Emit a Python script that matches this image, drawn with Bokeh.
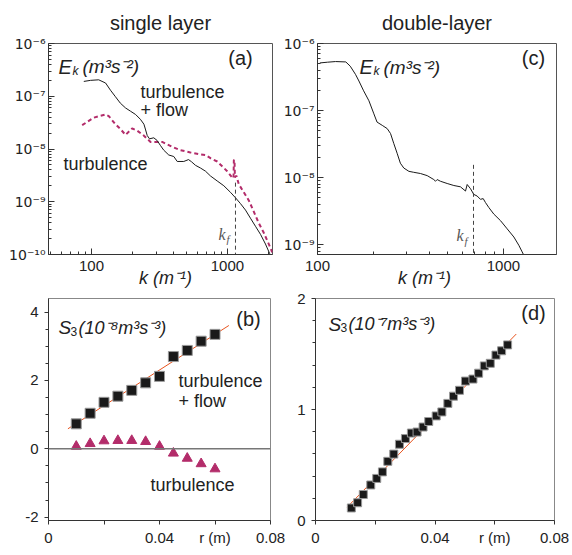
from bokeh.plotting import figure
from bokeh.models import Range1d, FixedTicker, Label, Span
from bokeh.layouts import row, column
from bokeh.embed import file_html
from bokeh.resources import INLINE

# ---------------- data ----------------
# (a) single layer, turbulence + flow (black)
K_A_FLOW = [87.8, 98.3, 113, 127, 138, 150, 163, 178, 194, 211, 229, 243, 249, 257, 267, 287, 304,
            321, 340, 370, 403, 427, 477, 517, 543, 582, 632, 689, 750, 840, 940, 1052, 1145, 1247,
            1357, 1476, 1606, 1749, 1902, 2047]
E_A_FLOW = [1.91e-7, 2.00e-7, 2.05e-7, 1.78e-7, 1.30e-7, 9.8e-8, 7.4e-8, 6.0e-8, 5.19e-8, 4.51e-8,
            3.65e-8, 2.95e-8, 2.39e-8, 1.80e-8, 1.56e-8, 1.63e-8, 1.45e-8, 1.17e-8, 9.5e-9, 7.7e-9,
            7.2e-9, 5.8e-9, 5.8e-9, 6.3e-9, 5.75e-9, 4.9e-9, 4.37e-9, 3.80e-9, 3.08e-9, 2.48e-9,
            2.01e-9, 1.51e-9, 1.19e-9, 9.2e-10, 6.95e-10, 4.87e-10, 3.43e-10, 2.41e-10, 1.58e-10,
            1.03e-10]
# (a) single layer, turbulence (magenta)
K_A_TURB = [85.4, 104, 127, 134, 150, 163, 178, 199, 217, 243, 272, 331, 392, 451, 534, 633, 689,
            750, 840, 914, 995, 1084, 1108, 1114, 1126, 1134, 1164, 1211, 1318, 1435, 1561, 1699,
            1849, 2013, 2133]
E_A_TURB = [2.83e-8, 3.93e-8, 4.51e-8, 4.20e-8, 2.95e-8, 2.40e-8, 1.85e-8, 2.46e-8, 2.22e-8,
            1.79e-8, 1.36e-8, 1.36e-8, 1.10e-8, 9.5e-9, 8.6e-9, 7.9e-9, 7.7e-9, 6.7e-9, 5.8e-9,
            4.7e-9, 3.8e-9, 2.86e-9, 2.8e-9, 6.2e-9, 6.2e-9, 2.9e-9, 3.1e-9, 2.15e-9, 1.51e-9,
            1.06e-9, 6.5e-10, 3.94e-10, 2.58e-10, 1.57e-10, 1.10e-10]
# (c) double layer
K_C = [103, 113, 125, 142, 150, 160, 167, 177, 189, 201, 209, 223, 237, 247, 257, 268, 279, 291,
       310, 329, 358, 389, 422, 431, 440, 458, 498, 541, 587, 625, 638, 665, 692, 722, 752, 778,
       800, 834, 887, 964, 1047, 1137, 1209, 1260, 1286]
E_C = [5.13e-7, 5.26e-7, 5.38e-7, 5.31e-7, 4.59e-7, 3.47e-7, 2.76e-7, 1.97e-7, 1.40e-7, 8.93e-8,
       6.73e-8, 6.01e-8, 5.38e-8, 4.54e-8, 3.24e-8, 2.31e-8, 1.64e-8, 1.39e-8, 1.24e-8, 1.20e-8,
       1.15e-8, 1.07e-8, 9.35e-9, 8.83e-9, 9.35e-9, 8.83e-9, 8.17e-9, 7.62e-9, 7.29e-9, 6.30e-9,
       7.89e-9, 6.82e-9, 5.62e-9, 5.31e-9, 4.74e-9, 4.86e-9, 4.25e-9, 3.58e-9, 2.86e-9, 2.28e-9,
       1.72e-9, 1.30e-9, 9.8e-10, 7.8e-10, 6.97e-10]
KF_A = 1145
KF_A_SPAN = [2.3e-9, 1.0e-10]
KF_C = 690
KF_C_SPAN = [1.55e-8, 7.13e-10]

# (b) single layer S3 (10^-8 m^3 s^-3)
R_B = [0.010, 0.015, 0.020, 0.025, 0.030, 0.035, 0.040, 0.045, 0.050, 0.055, 0.060]
S3_B_FLOW = [0.73, 1.04, 1.36, 1.54, 1.71, 1.93, 2.12, 2.70, 2.88, 3.15, 3.35]
S3_B_TURB = [0.07, 0.15, 0.23, 0.24, 0.24, 0.21, 0.07, -0.13, -0.28, -0.44, -0.59]
FIT_B_R = [0.007, 0.065]
FIT_B_S = [0.585, 3.61]

# (d) double layer S3 (10^-7 m^3 s^-3)
R_D = [0.0120, 0.0141, 0.0160, 0.0185, 0.0205, 0.0224, 0.0242, 0.0262, 0.0281, 0.0301, 0.0321,
       0.0340, 0.0360, 0.0379, 0.0404, 0.0423, 0.0443, 0.0462, 0.0482, 0.0502, 0.0527, 0.0546,
       0.0565, 0.0585, 0.0604, 0.0623, 0.0643]
S3_D = [0.113, 0.16, 0.234, 0.32, 0.379, 0.438, 0.533, 0.598, 0.687, 0.738, 0.788, 0.797, 0.842,
        0.892, 0.942, 0.978, 1.055, 1.12, 1.173, 1.256, 1.274, 1.327, 1.393, 1.416, 1.49, 1.529,
        1.582]
FIT_D_R = [0.0106, 0.0672]
FIT_D_S = [0.12, 1.68]

LOG_Y_TICKS = [1e-10, 1e-9, 1e-8, 1e-7, 1e-6]
LOG_Y_LABELS = ["10⁻¹⁰", "10⁻⁹", "10⁻⁸", "10⁻⁷", "10⁻⁶"]
LOG_X_TICKS = [100, 1000]
LOG_X_LABELS = ["100", "1000"]
R_TICKS = [0, 0.02, 0.04, 0.06, 0.08]
R_LABELS = ["0", "", "0.04", "r (m)", "0.08"]
K_LABEL = "k (m⁻¹)"

# ---------------- style ----------------
FONT = "Liberation Sans"
SERIF = "Liberation Serif"
INK = "#222222"
MAG = "#B32C6A"
FIT = "#E8541E"
NB = "\u00a0"


def make_fig(fw, fh, bl, br, bt, bb, xt, yt, xr, yr, outline):
    p = figure(width=bl + fw + br, height=bt + fh + bb, x_axis_type=xt, y_axis_type=yt,
               x_range=Range1d(*xr), y_range=Range1d(*yr), output_backend="svg",
               toolbar_location=None, min_border_left=bl, min_border_right=br,
               min_border_top=bt, min_border_bottom=bb)
    p.xgrid.visible = False
    p.ygrid.visible = False
    p.outline_line_color = outline
    p.outline_line_width = 1
    p.background_fill_color = "white"
    p.border_fill_color = "white"
    for ax in (p.xaxis[0], p.yaxis[0]):
        ax.axis_line_color = "#333333"
        ax.major_tick_line_color = "#333333"
        ax.minor_tick_line_color = "#333333"
        ax.major_label_text_font = FONT
        ax.major_label_text_font_size = "15px"
        ax.major_label_text_color = INK
    return p


def log_minor(lo, hi):
    out = []
    for e in range(lo, hi):
        for m in range(2, 10):
            out.append(m * 10.0 ** e)
    return out


def setup_log(p, lead, trail):
    xa, ya = p.xaxis[0], p.yaxis[0]
    xa.ticker = FixedTicker(ticks=LOG_X_TICKS, minor_ticks=log_minor(1, 4))
    xa.major_label_overrides = dict(zip(LOG_X_TICKS, LOG_X_LABELS))
    ya.ticker = FixedTicker(ticks=LOG_Y_TICKS, minor_ticks=log_minor(-10, -6))
    ya.major_label_overrides = dict(zip(LOG_Y_TICKS, LOG_Y_LABELS))
    ya.major_label_text_font = "DejaVu Sans"
    ya.major_label_text_font_size = "14px"
    for ax in (xa, ya):
        ax.major_tick_in = 6
        ax.major_tick_out = 0
        ax.minor_tick_in = 3
        ax.minor_tick_out = 0
    xa.major_label_standoff = 6
    ya.major_label_standoff = 3
    xa.axis_label = NB * lead + K_LABEL + NB * trail
    xa.axis_label_text_font = FONT
    xa.axis_label_text_font_size = "18px"
    xa.axis_label_text_font_style = "italic"
    xa.axis_label_text_color = INK
    xa.axis_label_standoff = -6


def setup_lin(p, yticks, ylabels, yminor):
    xa, ya = p.xaxis[0], p.yaxis[0]
    xa.ticker = FixedTicker(ticks=R_TICKS)
    xa.major_label_overrides = dict(zip(R_TICKS, R_LABELS))
    ya.ticker = FixedTicker(ticks=yticks, minor_ticks=yminor)
    ya.major_label_overrides = dict(zip(yticks, ylabels))
    for ax in (xa, ya):
        ax.major_tick_in = 0
        ax.major_tick_out = 4
        ax.minor_tick_in = 0
        ax.minor_tick_out = 3
    xa.major_label_standoff = 4
    ya.major_label_standoff = 6


def lab(p, conv, X, Y, text, size, style="normal", align="left", baseline="alphabetic",
        color=INK, font=FONT):
    x, y = conv(X, Y)
    p.add_layout(Label(x=x, y=y, text=text, text_font=font, text_font_size=f"{size}px",
                       text_font_style=style, text_align=align, text_baseline=baseline,
                       text_color=color))


# pixel -> data helpers (for text placement only)
def conv_a(X, Y):
    return 10 ** (2 + (X - 91) / 136.0), 10 ** (-6 - (Y - 42) / 54.25)


def conv_c(X, Y):
    return 10 ** (2 + (X - 317) / 186.0), 10 ** (-6 - (Y - 42) / 68.0)


def conv_b(X, Y):
    return (X - 48) / 222.0 * 0.08, 4.4 - (Y - 298) / 222.0 * 6.5


def conv_d(X, Y):
    return (X - 315) / 239.0 * 0.08, 2 - (Y - 297) / 226.0 * 2


def set_title(p, text, offset):
    p.title.text = text
    p.title.align = "center"
    p.title.offset = offset
    p.title.text_font = FONT
    p.title.text_font_size = "20px"
    p.title.text_font_style = "normal"
    p.title.text_color = INK
    p.title.standoff = 19


# ---------------- (a) ----------------
pa = make_fig(224, 217, 48, 5, 42, 31, "log", "log", (48.3, 2143), (1e-10, 1e-6), "#555555")
setup_log(pa, 2, 0)
set_title(pa, "single layer", 0)
pa.line(K_A_TURB, E_A_TURB, line_color=MAG, line_width=2, line_dash="4 3")
pa.line(K_A_FLOW, E_A_FLOW, line_color="#1a1a1a", line_width=1)
pa.line([KF_A, KF_A], KF_A_SPAN, line_color="#444444", line_width=1, line_dash="4 3")
lab(pa, conv_a, 58, 66, "E", 20, "italic")
lab(pa, conv_a, 72, 70, "k", 12, "italic")
lab(pa, conv_a, 82, 66, "(m³s⁻²)", 19, "italic")
lab(pa, conv_a, 240, 57, "(a)", 20, align="center", baseline="middle")
lab(pa, conv_a, 140, 92, "turbulence", 18)
lab(pa, conv_a, 140, 110, "+ flow", 18)
lab(pa, conv_a, 63, 166, "turbulence", 18)
lab(pa, conv_a, 218, 238, "k", 16, "italic", color="#555555", font=SERIF)
lab(pa, conv_a, 226, 243, "f", 11, "italic", color="#555555", font=SERIF)

# ---------------- (c) ----------------
pc = make_fig(239, 214, 40, 10, 42, 34, "log", "log", (100, 1928), (7.13e-10, 1e-6), "#555555")
setup_log(pc, 0, 5)
set_title(pc, "double-layer", 17)
pc.line(K_C, E_C, line_color="#1a1a1a", line_width=1)
pc.line([KF_C, KF_C], KF_C_SPAN, line_color="#444444", line_width=1, line_dash="4 3")
lab(pc, conv_c, 359, 66, "E", 20, "italic")
lab(pc, conv_c, 373, 70, "k", 12, "italic")
lab(pc, conv_c, 383, 66, "(m³s⁻²)", 19, "italic")
lab(pc, conv_c, 533, 57, "(c)", 20, align="center", baseline="middle")
lab(pc, conv_c, 456, 237, "k", 16, "italic", color="#555555", font=SERIF)
lab(pc, conv_c, 464, 242, "f", 11, "italic", color="#555555", font=SERIF)

# ---------------- (b) ----------------
pb = make_fig(222, 222, 48, 20, 8, 30, "linear", "linear", (0, 0.08), (-2.1, 4.4), "#888888")
setup_lin(pb, [-2, 0, 2, 4], ["-2", "0", "2", "4"], [-1.5, -1, -0.5, 0.5, 1, 1.5, 2.5, 3, 3.5])
pb.add_layout(Span(location=0, dimension="width", line_color="#777777", line_width=1.5))
pb.line(FIT_B_R, FIT_B_S, line_color=FIT, line_width=1)
pb.scatter(R_B, S3_B_FLOW, marker="square", size=10, fill_color="#1a1a1a", line_color="#999999",
           line_width=1)
pb.scatter(R_B, S3_B_TURB, marker="triangle", size=10, fill_color=MAG, line_color=MAG)
lab(pb, conv_b, 58, 327, "S", 19, "italic")
lab(pb, conv_b, 70, 331, "3", 12)
lab(pb, conv_b, 78, 327, "(10⁻⁸m³s⁻³)", 18, "italic")
lab(pb, conv_b, 248, 318, "(b)", 20, align="center", baseline="middle")
lab(pb, conv_b, 178, 380, "turbulence", 18)
lab(pb, conv_b, 178, 400, "+ flow", 18)
lab(pb, conv_b, 150, 484, "turbulence", 18)

# ---------------- (d) ----------------
pd_ = make_fig(239, 226, 25, 18, 7, 27, "linear", "linear", (0, 0.08), (0, 2), "#888888")
setup_lin(pd_, [0, 1, 2], ["0", "1", "2"], [0.2, 0.4, 0.6, 0.8, 1.2, 1.4, 1.6, 1.8])
pd_.line(FIT_D_R, FIT_D_S, line_color=FIT, line_width=1)
pd_.scatter(R_D, S3_D, marker="square", size=8, fill_color="#1a1a1a", line_color="#999999",
            line_width=1)
lab(pd_, conv_d, 328, 323, "S", 19, "italic")
lab(pd_, conv_d, 340, 327, "3", 12)
lab(pd_, conv_d, 348, 323, "(10⁻⁷m³s⁻³)", 18, "italic")
lab(pd_, conv_d, 533, 312, "(d)", 20, align="center", baseline="middle")

layout = column(row(pa, pc), row(pb, pd_))
open("out.html", "w").write(file_html(layout, INLINE))
